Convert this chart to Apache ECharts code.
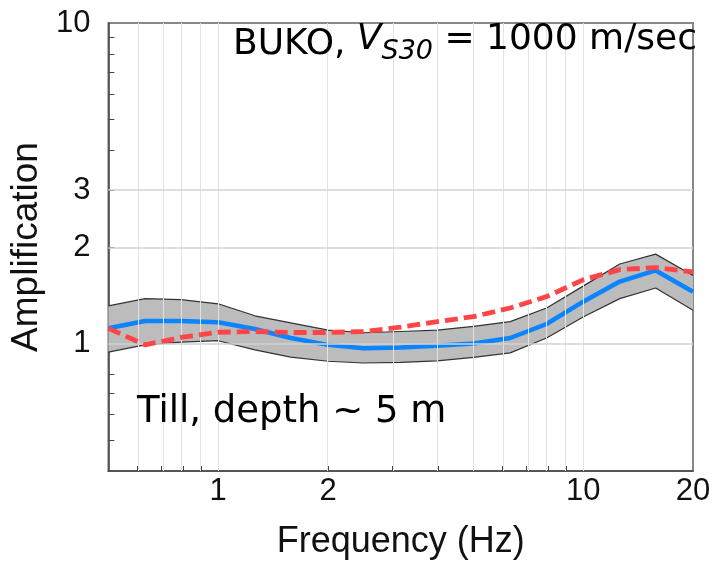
<!DOCTYPE html>
<html><head><meta charset="utf-8">
<script src="https://cdn.jsdelivr.net/npm/echarts@6/dist/echarts.min.js"></script>
<style>html,body{margin:0;padding:0;background:#fff}#c{width:714px;height:565px}</style>
</head><body><div id="c"></div>
<script>
// Frequencies (Hz)
const freqs = [0.5, 0.63, 0.79, 1.0, 1.26, 1.58, 2.0, 2.5, 3.16, 3.98, 5.01, 6.31, 7.94, 10, 12.6, 15.8, 20];
// Observed amplification: upper / mean / lower of band
const upperBand = [1.31, 1.38, 1.37, 1.33, 1.22, 1.16, 1.10, 1.08, 1.09, 1.10, 1.13, 1.17, 1.29, 1.51, 1.77, 1.90, 1.63];
const meanAmp   = [1.115, 1.175, 1.175, 1.165, 1.11, 1.04, 0.99, 0.967, 0.972, 0.983, 1.0, 1.04, 1.15, 1.35, 1.56, 1.69, 1.45];
const lowerBand = [0.94, 0.99, 1.01, 1.02, 0.955, 0.907, 0.88, 0.869, 0.873, 0.883, 0.905, 0.935, 1.04, 1.21, 1.38, 1.49, 1.27];
// Model amplification (red dashed)
const modelAmp  = [1.115, 0.99, 1.044, 1.084, 1.09, 1.082, 1.082, 1.09, 1.124, 1.17, 1.213, 1.29, 1.40, 1.58, 1.70, 1.725, 1.673];

// Axis ticks / labels / gridlines
const xRange = [0.5, 20];
const yRange = [0.4, 10];
const xLabels = [1, 2, 10, 20];
const xTicks = [0.6, 0.7, 0.8, 0.9, 1, 2, 3, 4, 5, 6, 7, 8, 9, 10];
const xGrid = [0.6, 0.7, 0.8, 0.9, 1, 2, 3, 4, 5, 6, 7, 8, 9, 10];
const yLabels = [1, 2, 3, 10];
const yTicks = [0.5, 0.6, 0.7, 0.8, 1, 2, 3, 4, 5, 6, 7, 8, 9];
const yGrid = [1, 2, 3];

const L = Math.log10;
const pts = arr => freqs.map((f, i) => [L(f), L(arr[i])]);
const bandData = freqs.map((f, i) => [L(f), L(lowerBand[i]), L(upperBand[i])]);
const fmt = v => { const r = Math.pow(10, v); return String(Math.round(r * 10) / 10); };

const tickFont = { fontFamily: 'Liberation Sans, Arial, sans-serif', fontSize: 31, color: '#111' };
const xNameFont = { fontFamily: 'Liberation Sans, Arial, sans-serif', fontSize: 36, color: '#111' };
const yNameFont = { fontFamily: 'Liberation Sans, Arial, sans-serif', fontSize: 37, color: '#111' };
const textFont = 'DejaVu Sans, sans-serif';

const chart = echarts.init(document.getElementById('c'), null, { renderer: 'canvas' });
chart.setOption({
  animation: false,
  grid: { left: 108, top: 23, right: 21, bottom: 92, show: true, borderColor: '#888', borderWidth: 2, backgroundColor: 'transparent' },
  xAxis: {
    type: 'value', min: L(xRange[0]), max: L(xRange[1]),
    name: 'Frequency (Hz)', nameLocation: 'middle', nameGap: 53,
    nameTextStyle: xNameFont,
    axisLine: { show: true, onZero: false, lineStyle: { color: '#444', width: 1.5 } },
    axisTick: { show: true, inside: true, length: 5, customValues: xTicks.map(L), lineStyle: { color: '#444', width: 1 } },
    axisLabel: Object.assign({ customValues: xLabels.map(L), formatter: fmt, margin: 5 }, tickFont),
    splitLine: { show: false }
  },
  yAxis: {
    type: 'value', min: L(yRange[0]), max: L(yRange[1]),
    name: 'Amplification', nameLocation: 'middle', nameGap: 60,
    nameTextStyle: yNameFont,
    axisLine: { show: true, onZero: false, lineStyle: { color: '#444', width: 1.5 } },
    axisTick: { show: true, inside: true, length: 6, customValues: yTicks.map(L), lineStyle: { color: '#444', width: 1 } },
    axisLabel: Object.assign({ customValues: yLabels.map(L), formatter: fmt, margin: 18 }, tickFont),
    splitLine: { show: false }
  },
  series: [
    { // gridlines
      type: 'line', data: pts(lowerBand), showSymbol: false, silent: true, z: 1,
      lineStyle: { opacity: 0 },
      markLine: {
        silent: true, symbol: 'none', label: { show: false },
        data: xGrid.map(v => ({ xAxis: L(v), lineStyle: { color: '#e3e3e3', width: 1, type: 'solid' } }))
          .concat(yGrid.map(v => ({ yAxis: L(v), lineStyle: { color: '#d2d2d2', width: 1.5, type: 'solid' } })))
      }
    },
    { // gray band between lower and upper
      type: 'custom', z: 2, silent: true, data: bandData,
      encode: { x: 0, y: [1, 2] },
      renderItem: function (params, api) {
        if (params.dataIndexInside !== 0) return null;
        const n = params.dataInsideLength;
        const top = [], bot = [];
        for (let j = 0; j < n; j++) {
          top.push(api.coord([api.value(0, j), api.value(2, j)]));
          bot.push(api.coord([api.value(0, j), api.value(1, j)]));
        }
        return { type: 'polygon', shape: { points: top.concat(bot.reverse()) }, style: { fill: '#bcbcbc' } };
      }
    },
    { type: 'line', data: pts(upperBand), showSymbol: false, z: 3, lineStyle: { color: '#333', width: 1.2 } },
    { type: 'line', data: pts(lowerBand), showSymbol: false, z: 3, lineStyle: { color: '#333', width: 1.2 } },
    { type: 'line', data: pts(meanAmp), showSymbol: false, z: 4, lineStyle: { color: '#0a84ff', width: 4.5 } },
    { type: 'line', data: pts(modelAmp), showSymbol: false, z: 5, lineStyle: { color: '#ff4545', width: 4.8, type: [13, 6], cap: 'butt' } }
  ],
  graphic: [
    { type: 'text', right: 17, top: 22, z: 10,
      style: {
        text: 'BUKO, {i|V}{sub|S30}{n| = 1000 m/sec}',
        font: '36px ' + textFont, fill: '#000',
        rich: {
          i: { fontStyle: 'italic', fontSize: 36, fontFamily: textFont, lineHeight: 46, verticalAlign: 'top' },
          sub: { fontStyle: 'italic', fontSize: 27, fontFamily: textFont, lineHeight: 30, padding: [16, 0, 0, 0], verticalAlign: 'top' },
          n: { fontSize: 36, fontFamily: textFont, lineHeight: 46, verticalAlign: 'top' }
        }
      } },
    { type: 'text', left: 137, top: 394, z: 10,
      style: { text: 'Till, depth ~ 5 m', font: '37px ' + textFont, fill: '#000' } }
  ]
});
</script></body></html>
